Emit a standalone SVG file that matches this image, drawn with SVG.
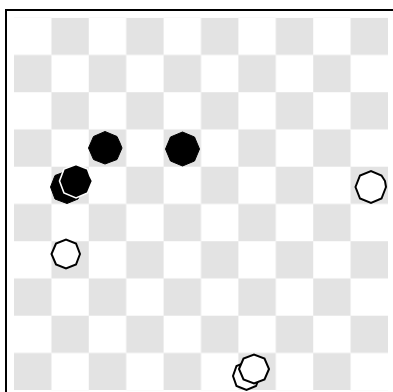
<svg xmlns="http://www.w3.org/2000/svg" width="393" height="392" viewBox="0 0 393 392">
  <style>
    .blk { fill: #000; stroke: #000; stroke-width: 1; }
    .blk-top { fill: #000; stroke: #fff; stroke-width: 1.6; }
    .wht { fill: #fff; stroke: #000; stroke-width: 2; }
  </style>
  <defs>
    <pattern id="checker" patternUnits="userSpaceOnUse" x="14" y="17.7" width="74.8" height="74.5">
      <rect x="37.4" y="0" width="37.4" height="37.25" fill="#e3e3e3"/>
      <rect x="0" y="37.25" width="37.4" height="37.25" fill="#e3e3e3"/>
    </pattern>
    <polygon id="oct" points="15,6.2 6.2,15 -6.2,15 -15,6.2 -15,-6.2 -6.2,-15 6.2,-15 15,-6.2"/>
  </defs>
  <rect width="393" height="392" fill="#fff"/>
  <g id="board">
    <rect x="14" y="17.7" width="374" height="372.5" fill="url(#checker)"/>
    <rect x="6" y="10" width="420" height="420" fill="none" stroke="#000" stroke-width="2"/>
  </g>
  <g id="connectors"/>
  <g id="black-1"><polygon class="blk" points="122,148 117,159.5 105,164 93.5,159.5 88.5,148 93.5,136.5 105,131.5 117,136.5 120,143"/></g>
  <g id="black-2"><polygon class="blk" points="199.5,149 194.5,161 182.5,166 170.5,161 165.5,149 170.5,137 182.5,132 194.5,137"/></g>
  <g id="black-stack">
    <polygon class="blk" points="83,187 78,199 67,203.5 55,199 50.5,187 55,175.5 67,171 78,175.5"/>
    <polygon class="blk-top" points="92.5,181 87.5,193 76,198 64,193 59.5,181 64,169 76,164.5 87.5,169 90,176"/>
  </g>
  <g id="white-1"><polygon class="wht" points="386,187 381.5,198.5 371,203 360,198.5 355.5,187 360,175.5 371,171 381.5,175.5 385,181"/></g>
  <g id="white-2"><polygon class="wht" points="80,254 76,264.5 66,268.5 56,264.5 51.5,254 56,243.5 66,239.5 76,243.5"/></g>
  <g id="white-stack">
    <polygon class="wht" points="260,376 256,386 246.5,390 236.5,386 233,376 236.5,366 246.5,362 256,366"/>
    <polygon class="wht" points="269,369 264.5,379.5 254,383.5 243.5,379.5 239,369 243.5,358.5 254,354.5 264.5,358.5"/>
  </g>
</svg>
